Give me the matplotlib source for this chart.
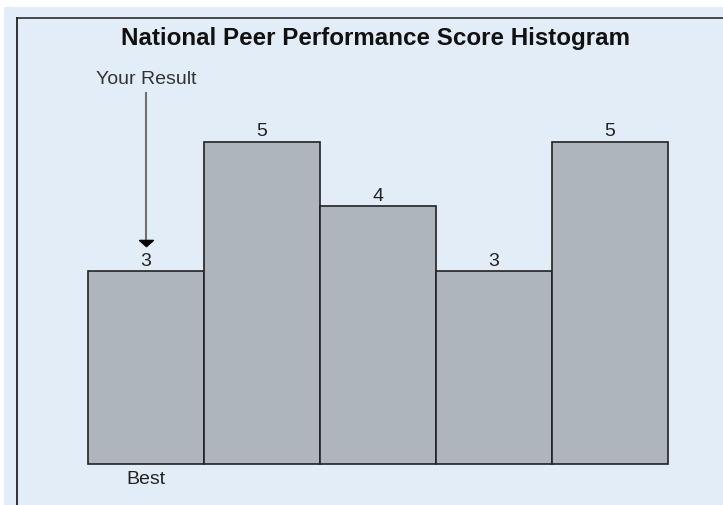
import matplotlib
matplotlib.use("Agg")
import matplotlib.pyplot as plt
from matplotlib.patches import Rectangle
from matplotlib.lines import Line2D

# histogram data
counts = [3, 5, 4, 3, 5]
bin_labels = ["Best", "", "", "", ""]
your_bin = 0
title = "National Peer Performance Score Histogram"

W, H = 723, 505
BG = "#e3edf7"
BAR = "#aeb5bc"

fig = plt.figure(figsize=(W / 100, H / 100), dpi=100)
fig.patch.set_facecolor("white")

# light blue panel + frame lines (pixel coords -> figure fraction)
fig.patches.append(Rectangle((4 / W, 0), 1, 1 - 7 / H, transform=fig.transFigure,
                             facecolor=BG, edgecolor="none", zorder=-5))
fig.lines.append(Line2D([17 / W, 1], [1 - 18 / H, 1 - 18 / H], transform=fig.transFigure,
                        color="#3a3d40", lw=1.3, zorder=-4))
fig.lines.append(Line2D([17 / W, 17 / W], [0, 1 - 18 / H], transform=fig.transFigure,
                        color="#222222", lw=1.3, zorder=-4))

fig.text(375 / W, 1 - 38 / H, title, ha="center", va="center",
         fontsize=17.4, fontweight="bold", family="Liberation Sans", color="#111111")

unit = 64.5
ax = fig.add_axes([88 / W, (H - 464) / H, (668 - 88) / W, (464 - 18) / H])
ax.set_zorder(2)
ax.set_facecolor("none")
ax.set_xlim(-0.5, len(counts) - 0.5)
ax.set_ylim(0, (464 - 18) / unit)
ax.axis("off")

xs = range(len(counts))
bars = ax.bar(xs, counts, width=1.0, color=BAR, edgecolor="#222222", linewidth=1.2)
for b in bars:
    b.set_clip_on(False)

for x, c in zip(xs, counts):
    ax.annotate(str(c), (x, c), xytext=(0, 3.6), textcoords="offset points",
                ha="center", va="baseline", fontsize=14, family="Liberation Sans",
                color="#222222")

for x, lab in zip(xs, bin_labels):
    if lab:
        ax.annotate(lab, (x, 0), xytext=(0, -5), textcoords="offset points",
                    ha="center", va="top", fontsize=14, family="Liberation Sans",
                    color="#222222", annotation_clip=False)

# "Your Result" marker
ax.text(your_bin, (464 - 80) / unit, "Your Result", ha="center", va="center",
        fontsize=14, family="Liberation Sans", color="#333333")
ax.plot([your_bin, your_bin], [(464 - 93) / unit, (464 - 240) / unit],
        color="#707070", lw=1.5, clip_on=False)
head = [(-1, 0.3), (1, 0.3), (0, -0.6), (-1, 0.3)]
ax.plot([your_bin], [(464 - 242) / unit], marker=head, markersize=10,
        color="black", clip_on=False)

fig.savefig("out.png", dpi=100)
